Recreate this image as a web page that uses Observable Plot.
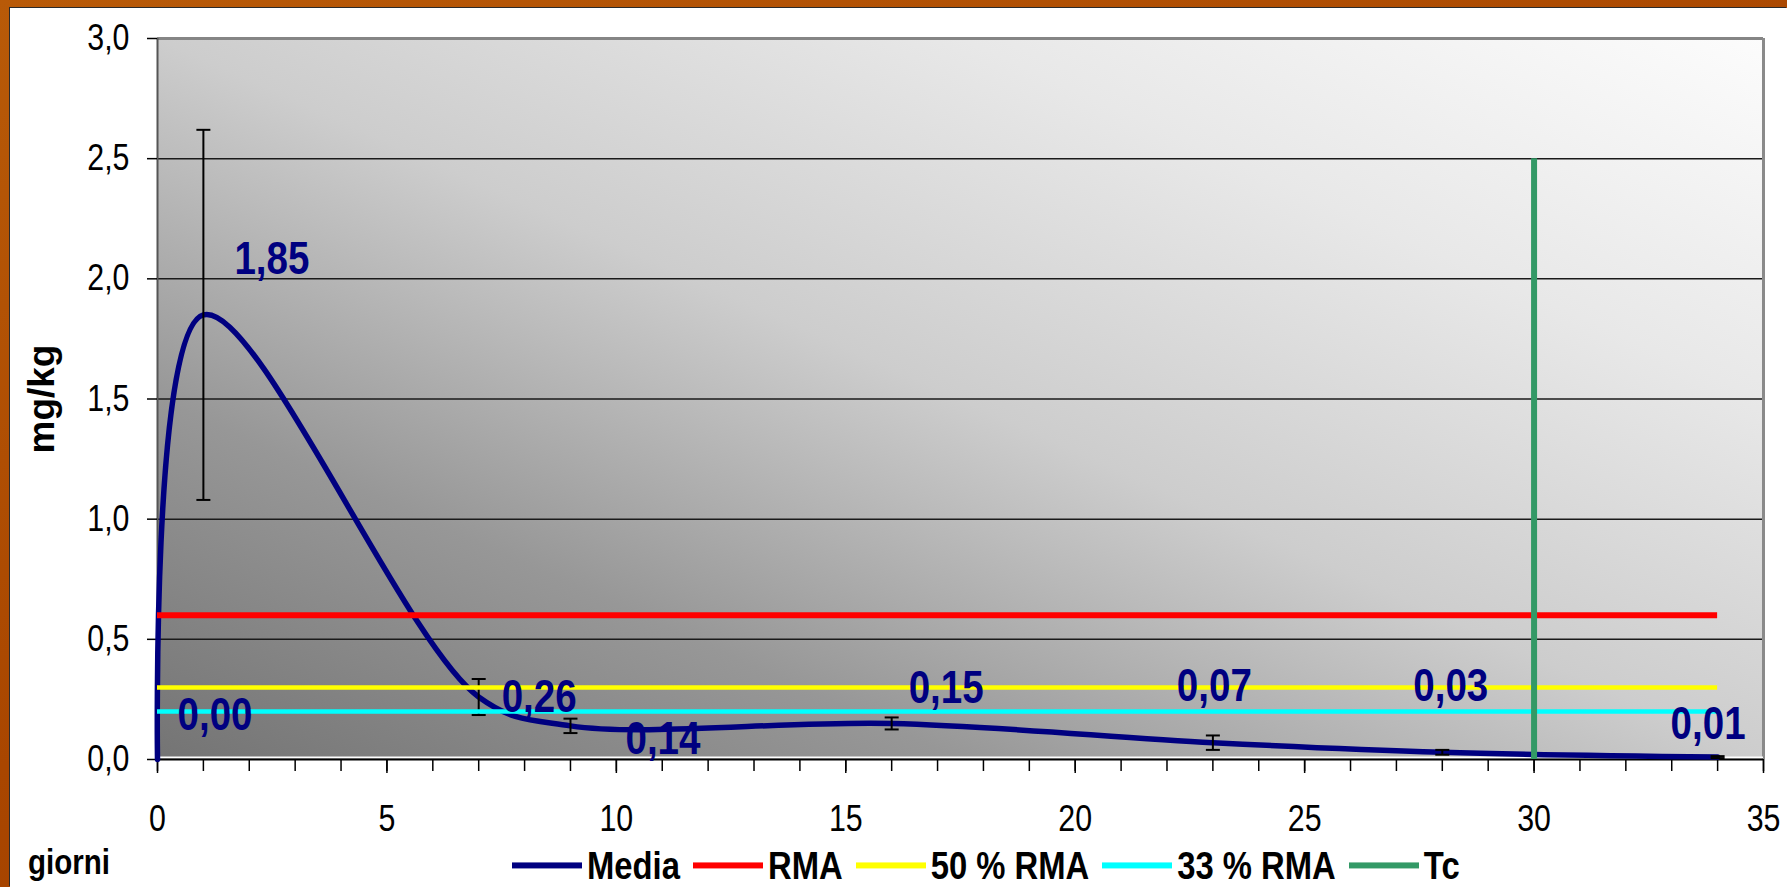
<!DOCTYPE html>
<html>
<head>
<meta charset="utf-8">
<script src="https://cdn.jsdelivr.net/npm/d3@7"></script>
<script src="https://cdn.jsdelivr.net/npm/@observablehq/plot@0.6"></script>
<style>
  html, body { margin: 0; padding: 0; width: 1787px; height: 887px; overflow: hidden; }
  body { background: linear-gradient(160deg, #b85a08 0%, #a94600 50%, #9c3c00 100%); position: relative; }
  #panel { position: absolute; left: 10px; top: 8px; width: 1777px; height: 879px; background: #ffffff; box-shadow: -1px -1px 0 #2a2a2a; }
  #chart svg { display: block; }
  .leg { position: absolute; display: flex; align-items: center; font-weight: bold; color: #000; white-space: nowrap; transform: scaleY(1.2); transform-origin: 50% 50%; }
  .sw { display: inline-block; width: 70px; height: 5px; margin-right: 5px; }
  .lt { margin-right: 13px; }
</style>
</head>
<body>
<div id="panel"><div id="chart"></div></div>
<div id="giorni" class="leg"></div>
<div id="legend" class="leg"></div>
<script>
// ---------------- data ----------------
const days   = [0, 1, 7, 9, 16, 23, 28, 34];
const media  = [0.00, 1.85, 0.26, 0.14, 0.15, 0.07, 0.03, 0.01];
const errore = [0, 0.77, 0.075, 0.03, 0.025, 0.03, 0.01, 0.004];
const rma = 0.6;
const rma50 = 0.3;
const rma33 = 0.2;
const rmaEndDay = 34;
const tcDay = 30;
const tcTop = 2.5;
const seriesNames = ["Media", "RMA", "50 % RMA", "33 % RMA", "Tc"];
const yTicks = [0, 0.5, 1.0, 1.5, 2.0, 2.5, 3.0];
const xTicks = [0, 5, 10, 15, 20, 25, 30, 35];
const xMinorTicks = d3.range(0, 36);
const xTitle = "giorni";
const yTitle = "mg/kg";

// ---------------- styles ----------------
const seriesColors = ["#000080", "#ff0000", "#ffff00", "#00ffff", "#339966"];
const labelOffsets = [[20, -44], [31, -56], [23, 0], [55, 13], [17, -35], [-36, -56], [-29, -66], [-47, -33]];
const STRETCH = 1.2;

function hasFont(name) {
  const c = document.createElement("canvas").getContext("2d");
  const s = "Media 0,26 giorni RMA";
  c.font = "bold 40px monospace";
  const w0 = c.measureText(s).width;
  c.font = `bold 40px '${name}', monospace`;
  return Math.abs(c.measureText(s).width - w0) > 0.5;
}
const narrow = hasFont("Liberation Sans Narrow");
const FN = narrow ? "'Liberation Sans Narrow', 'Liberation Sans', Arial, sans-serif" : "'Liberation Sans', Arial, sans-serif";
const FW = "'Liberation Sans', Arial, sans-serif";
const k = narrow ? 1 : 0.82;
const stretch = narrow ? 1 : STRETCH;

const comma = d => d.toFixed(1).replace(".", ",");
const comma2 = d => d.toFixed(2).replace(".", ",");
const pts = days.map((d, i) => ({x: d, y: media[i], e: errore[i], i}));
const bars = pts.filter(p => p.e > 0);

const capSymbol = { draw(ctx) { ctx.moveTo(-7, 0); ctx.lineTo(7, 0); } };

const W = 1777, H = 835;
const chart = Plot.plot({
  width: W, height: H,
  marginLeft: 147, marginRight: 24, marginTop: 30, marginBottom: 84,
  style: { background: "transparent", color: "black", fontFamily: FN, overflow: "visible" },
  x: { domain: [0, 35], axis: null },
  y: { domain: [0, 3], axis: null },
  marks: [
    Plot.frame({ fill: "url(#bgGrad)", stroke: "none" }),
    Plot.gridY(yTicks.filter(t => t > 0 && t < 3), { stroke: "#1a1a1a", strokeOpacity: 1, strokeWidth: 1.5 }),
    Plot.ruleY([3], { stroke: "#858585", strokeWidth: 3 }),
    Plot.ruleX([35], { stroke: "#8a8a8a", strokeWidth: 3 }),
    Plot.ruleX([0], { stroke: "#555", strokeWidth: 2 }),
    Plot.ruleY([0], { stroke: "white", strokeWidth: 2, dy: -2 }),
    Plot.ruleY([0], { stroke: "black", strokeWidth: 2 }),
    Plot.axisY({ ticks: yTicks, label: null, tickSize: 10, tickPadding: 18, tickFormat: comma, fontSize: 37 * k, fontFamily: FN, stroke: "black", strokeWidth: 1.5 }),
    Plot.axisX({ ticks: xMinorTicks, label: null, tickSize: 12, tickFormat: () => "", stroke: "black", strokeWidth: 1.5 }),
    Plot.axisX({ ticks: xTicks, label: null, tickSize: 14, tickPadding: 32, tickFormat: d => String(d), fontSize: 37 * k, fontFamily: FN, stroke: "black", strokeWidth: 1.5 }),
    Plot.text([yTitle], { frameAnchor: "left", textAnchor: "middle", dx: -115, rotate: -90, fontWeight: "bold", fontSize: 37, fontFamily: FW, fill: "black" }),
    // Media
    Plot.line(pts, { x: "x", y: "y", curve: "catmull-rom", stroke: seriesColors[0], strokeWidth: 5.5 }),
    Plot.ruleX(bars, { x: "x", y1: p => p.y - p.e, y2: p => p.y + p.e, stroke: "black", strokeWidth: 2 }),
    Plot.dot(bars, { x: "x", y: p => p.y - p.e, symbol: capSymbol, stroke: "black", strokeWidth: 2, fill: "none" }),
    Plot.dot(bars, { x: "x", y: p => p.y + p.e, symbol: capSymbol, stroke: "black", strokeWidth: 2, fill: "none" }),
    // thresholds
    Plot.ruleY([rma], { x1: 0, x2: rmaEndDay, stroke: seriesColors[1], strokeWidth: 6 }),
    Plot.ruleY([rma50], { x1: 0, x2: rmaEndDay, stroke: seriesColors[2], strokeWidth: 4.5 }),
    Plot.ruleY([rma33], { x1: 0, x2: rmaEndDay, stroke: seriesColors[3], strokeWidth: 4.5 }),
    Plot.ruleX([tcDay], { y1: 0, y2: tcTop, stroke: seriesColors[4], strokeWidth: 6 }),
    // data labels
    ...pts.map((p, i) => Plot.text([p], {
      x: "x", y: "y", text: d => comma2(d.y), dx: labelOffsets[i][0], dy: labelOffsets[i][1],
      textAnchor: "start", lineAnchor: "middle", fill: seriesColors[0], fontWeight: "bold",
      fontSize: 47 * k, fontFamily: FN
    }))
  ]
});

// gradient background of plot area
const ns = "http://www.w3.org/2000/svg";
const defs = document.createElementNS(ns, "defs");
const grad = document.createElementNS(ns, "linearGradient");
grad.setAttribute("id", "bgGrad");
grad.setAttribute("x1", "0"); grad.setAttribute("y1", "1");
grad.setAttribute("x2", "1"); grad.setAttribute("y2", "0");
[[0, "#747474"], [0.25, "#979797"], [0.42, "#bcbcbc"], [0.5, "#cdcdcd"], [0.75, "#e8e8e8"], [1, "#fcfcfc"]].forEach(([o, c]) => {
  const s = document.createElementNS(ns, "stop");
  s.setAttribute("offset", o); s.setAttribute("stop-color", c);
  grad.appendChild(s);
});
defs.appendChild(grad);
chart.insertBefore(defs, chart.firstChild);
document.getElementById("chart").appendChild(chart);

// emulate the vertically stretched lettering of the original (horizontal texts only)
function num(v) {
  if (v == null || v === "" || /em|%/.test(v)) return 0;
  const n = parseFloat(v);
  return isFinite(n) ? n : 0;
}
if (stretch !== 1) {
  chart.querySelectorAll("text").forEach(t => {
    const tr = t.getAttribute("transform") || "";
    if (tr.includes("rotate")) return;
    const x = num(t.getAttribute("x")), y = num(t.getAttribute("y"));
    t.setAttribute("transform", `${tr} translate(${x},${y}) scale(1,${stretch}) translate(${-x},${-y})`.trim());
  });
} else {
  document.querySelectorAll(".leg").forEach(e => e.style.transform = "none");
}

// x title
const g = document.getElementById("giorni");
g.textContent = xTitle;
g.style.fontFamily = FN; g.style.fontSize = (36 * k) + "px";
g.style.left = "28px"; g.style.top = (862 - 18 * k * 1.15) + "px"; g.style.lineHeight = (36 * k * 1.15) + "px";

// legend
const leg = document.getElementById("legend");
leg.style.fontFamily = FN; leg.style.fontSize = (40 * k) + "px";
leg.style.left = "512px"; leg.style.top = (866 - 23 * k) + "px"; leg.style.height = (46 * k) + "px";
seriesNames.forEach((n, i) => {
  const sw = document.createElement("span");
  sw.className = "sw"; sw.style.background = seriesColors[i];
  const t = document.createElement("span");
  t.className = "lt"; t.textContent = n;
  leg.appendChild(sw); leg.appendChild(t);
});
</script>
</body>
</html>
